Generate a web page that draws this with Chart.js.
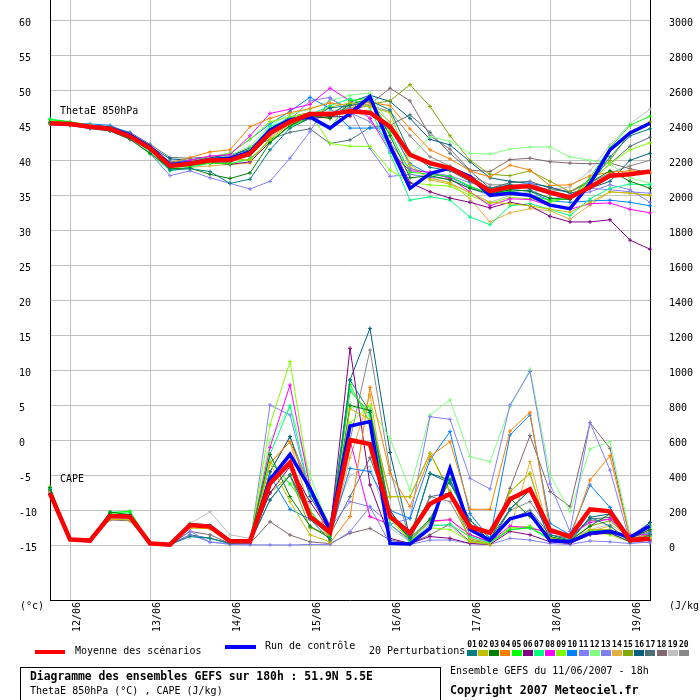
<!DOCTYPE html>
<html><head><meta charset="utf-8">
<script src="https://cdn.jsdelivr.net/npm/chart.js@4"></script>
<style>
html,body{margin:0;padding:0;background:#fff;overflow:hidden;}
#wrap{position:relative;width:700px;height:700px;overflow:hidden;font-family:"DejaVu Sans Mono",monospace;font-size:10px;color:#000;}
canvas{position:absolute;left:0;top:0;}
.t{position:absolute;white-space:nowrap;line-height:1;}
.b{font-weight:bold;}
.sw{position:absolute;}
</style></head><body>
<div id="wrap">
<canvas id="c" width="700" height="700"></canvas>
<div class="t" style="left:60px;top:106px">ThetaE 850hPa</div>
<div class="t" style="left:60px;top:474px">CAPE</div>
<div class="t" style="left:20px;top:601px">(°c)</div>
<div class="t" style="left:669px;top:601px">(J/kg)</div>
<div class="sw" style="left:35px;top:650px;width:30px;height:4px;background:#ff0000"></div>
<div class="t" style="left:75px;top:646px">Moyenne des scénarios</div>
<div class="sw" style="left:225px;top:645px;width:31px;height:4px;background:#0000ff"></div>
<div class="t" style="left:265px;top:641px">Run de contrôle</div>
<div class="t" style="left:369px;top:646px">20 Perturbations</div>
<div id="boxes"></div>
<div style="position:absolute;left:20px;top:667px;width:419px;height:40px;border:1px solid #000;"></div>
<div class="t b" style="left:30px;top:671px;font-size:11.4px">Diagramme des ensembles GEFS sur 180h : 51.9N 5.5E</div>
<div class="t" style="left:30px;top:686px">ThetaE 850hPa (°C) , CAPE (J/kg)</div>
<div class="t" style="left:450px;top:666px">Ensemble GEFS du 11/06/2007 - 18h</div>
<div class="t b" style="left:450px;top:685px;font-size:11.6px">Copyright 2007 Meteociel.fr</div>
</div>
<script>
// ---- categories (6-hourly steps, run of 11/06/2007 18h) ----
const times = ["11/06 18h","12/06 00h","12/06 06h","12/06 12h","12/06 18h","13/06 00h","13/06 06h","13/06 12h","13/06 18h",
"14/06 00h","14/06 06h","14/06 12h","14/06 18h","15/06 00h","15/06 06h","15/06 12h","15/06 18h",
"16/06 00h","16/06 06h","16/06 12h","16/06 18h","17/06 00h","17/06 06h","17/06 12h","17/06 18h",
"18/06 00h","18/06 06h","18/06 12h","18/06 18h","19/06 00h","19/06 06h"];

const leftTicks = [-15,-10,-5,0,5,10,15,20,25,30,35,40,45,50,55,60];
const rightTicks = [0,200,400,600,800,1000,1200,1400,1600,1800,2000,2200,2400,2600,2800,3000];

const memberNames = ["01","02","03","04","05","06","07","08","09","10","11","12","13","14","15","16","17","18","19","20"];

// ---- ThetaE 850hPa (°C) ----
const thetaMean = [45.3,45.2,44.8,44.5,43.4,41.7,39.2,39.5,40.0,40.0,41.0,43.9,45.5,46.6,46.6,47.0,46.8,44.8,40.8,39.6,38.9,37.4,35.6,36.2,36.3,35.4,34.7,36.2,37.8,38.0,38.4];
const thetaCtrl = [45.3,45.2,44.8,44.6,43.6,41.9,39.4,39.6,40.1,40.3,41.2,44.3,45.8,46.2,44.6,46.7,49.1,42.0,36.0,38.1,38.9,37.7,35.0,35.3,35.0,33.6,33.1,36.7,41.5,43.9,45.3];
const theta01 = [45.4,45.2,44.7,44.3,43.2,41.5,38.6,38.8,38.4,36.7,37.3,41.5,44.6,46.0,47.5,47.8,48.5,47.2,41.0,39.0,38.5,37.0,36.0,36.5,36.0,35.2,34.5,36.5,40.5,43.5,44.5];
const theta02 = [45.2,45.1,44.8,44.6,43.6,42.0,39.5,39.4,39.8,40.3,40.0,43.0,45.2,46.3,47.6,48.2,47.6,46.8,39.4,37.2,36.6,35.4,34.0,33.8,33.5,33.0,32.6,34.0,35.5,35.3,35.0];
const theta03 = [45.3,45.0,44.6,44.2,43.0,41.0,38.8,38.9,38.0,37.4,38.2,42.5,45.0,46.4,46.0,48.0,48.8,43.5,37.5,37.8,37.2,36.0,35.2,35.8,35.6,34.6,34.4,36.8,38.5,37.0,36.0];
const theta04 = [45.4,45.3,45.0,44.6,43.5,41.9,39.6,40.4,41.2,41.5,44.8,46.0,46.8,47.4,48.2,47.8,48.3,47.8,44.5,41.5,40.2,38.5,37.6,39.3,38.6,36.4,36.5,37.8,38.3,38.5,38.3];
const theta05 = [45.8,45.5,45.0,44.7,43.5,41.5,39.0,39.2,39.6,39.5,40.2,42.8,44.8,46.2,44.5,48.5,48.9,44.0,38.3,38.0,37.7,36.3,35.2,35.6,35.0,34.3,34.5,37.5,41.8,45.0,46.3];
const theta06 = [45.2,45.1,44.8,44.5,43.4,41.6,39.4,39.3,39.7,39.4,39.8,42.6,45.0,46.0,46.2,46.3,48.8,42.5,36.8,35.5,34.6,34.0,33.2,34.0,33.5,32.0,31.2,31.2,31.5,28.6,27.3];
const theta07 = [45.9,45.5,45.0,44.5,43.3,41.2,38.5,39.0,39.6,39.7,41.5,44.8,46.0,46.5,47.8,48.8,47.5,41.0,34.3,34.8,34.3,31.9,30.8,33.5,33.8,33.0,32.1,34.5,36.0,36.6,36.5];
const theta08 = [45.3,45.2,44.9,44.6,43.7,41.9,39.3,40.0,40.6,40.8,43.5,46.7,47.3,48.0,50.3,48.5,46.0,41.2,38.5,38.3,37.4,35.5,33.5,34.5,34.4,33.5,33.0,33.8,33.9,33.0,32.5];
const theta09 = [45.6,45.4,45.0,44.6,43.6,41.9,39.4,39.8,40.5,41.0,43.0,45.5,46.2,46.8,42.4,42.0,42.0,38.6,36.8,36.5,36.3,35.0,33.8,34.7,34.5,34.0,34.7,37.0,39.5,41.5,42.5];
const theta10 = [45.5,45.3,45.2,45.0,43.8,41.8,39.7,40.0,40.5,41.0,43.0,45.2,47.0,49.0,47.4,44.6,44.6,44.6,39.5,38.0,37.6,36.2,35.3,35.8,35.6,34.2,34.0,34.2,34.3,34.0,33.5];
const theta11 = [45.2,45.0,44.5,44.2,43.0,41.0,37.8,38.5,37.5,36.7,35.9,37.0,40.3,44.1,48.8,47.4,41.7,37.7,38.0,37.6,37.3,36.0,35.0,35.5,35.8,34.5,34.8,36.0,35.8,35.5,35.3];
const theta12 = [45.6,45.3,44.9,44.5,43.2,40.8,38.6,39.5,40.2,40.7,42.0,45.0,46.6,47.3,48.5,49.3,49.6,45.0,40.5,43.4,42.7,41.0,40.9,41.6,41.9,41.9,40.5,40.0,39.5,37.5,36.7];
const theta13 = [45.3,45.1,44.7,44.4,43.3,41.4,39.0,39.4,39.9,40.2,41.2,44.0,45.8,48.5,49.0,46.8,45.5,42.5,38.8,38.2,37.8,36.8,36.0,36.3,36.8,35.5,35.0,35.5,36.5,35.8,34.0];
const theta14 = [45.4,45.3,44.9,44.4,43.4,41.6,39.2,39.0,39.2,39.4,39.6,43.2,45.3,46.2,46.0,47.5,48.0,45.5,39.0,37.5,36.8,34.5,31.2,32.5,33.1,32.8,31.6,33.6,35.5,35.3,35.0];
const theta15 = [45.3,45.2,44.8,44.5,43.5,41.8,39.6,39.8,40.2,40.4,41.3,44.2,45.8,46.8,46.2,47.5,48.0,48.5,50.8,47.7,43.5,40.0,38.0,37.8,38.5,37.0,35.5,37.2,40.0,44.0,45.5];
const theta16 = [45.4,45.2,44.8,44.6,43.8,42.0,40.2,40.0,40.4,40.8,41.5,44.5,46.2,46.8,46.5,48.3,49.3,48.4,46.0,43.0,42.2,39.8,37.5,37.0,36.7,36.2,35.3,36.0,37.0,40.0,41.0];
const theta17 = [45.3,45.3,45.0,44.8,44.0,42.3,40.4,40.3,40.5,40.6,41.8,43.0,44.0,44.5,42.4,42.9,44.7,45.0,46.5,44.0,41.0,38.5,36.0,36.8,37.0,36.0,35.5,37.0,39.5,42.0,43.3];
const theta18 = [45.2,45.1,44.7,44.4,43.5,41.6,39.6,39.6,40.0,40.0,40.6,43.5,45.4,46.1,46.4,47.5,48.0,50.3,48.5,43.5,41.6,38.6,38.4,40.1,40.3,39.8,39.6,39.5,39.6,38.8,38.2];
const theta19 = [45.4,45.2,44.8,44.5,43.4,41.7,39.3,39.6,40.2,40.6,41.2,44.0,45.5,46.5,47.0,47.5,46.0,42.0,38.0,37.4,36.8,35.3,34.0,35.0,35.5,35.8,36.2,38.5,42.2,45.2,47.3];
const theta20 = [45.3,45.1,44.8,44.5,43.6,41.8,39.8,39.8,40.3,40.5,41.8,44.3,45.9,46.6,46.3,47.3,47.8,47.0,43.5,40.5,39.2,37.8,36.5,36.5,36.3,35.8,35.5,36.8,38.2,39.2,40.0];

// ---- CAPE (J/kg) ----
const capeMean = [297,34,27,168,164,11,4,116,107,23,23,354,472,164,75,602,578,165,70,237,293,106,72,263,320,88,50,206,194,30,38];
const capeCtrl = [300,34,27,170,165,11,4,116,110,23,23,375,520,326,88,682,707,12,8,97,440,90,29,152,181,27,21,69,80,46,110];
const cape01 = [320,35,25,160,160,10,4,50,40,10,15,259,402,150,30,945,760,200,40,411,373,145,40,206,316,60,30,160,110,20,60];
const cape02 = [300,30,25,150,145,8,2,100,95,20,20,469,250,60,20,780,720,278,278,526,300,20,5,307,411,40,20,90,90,30,40];
const cape03 = [330,38,28,190,175,12,5,110,100,25,25,520,278,110,40,800,770,160,40,150,373,120,30,269,164,50,25,110,180,40,90];
const cape04 = [310,34,26,165,160,10,3,115,105,20,20,469,592,330,15,164,903,411,221,507,592,206,206,653,760,90,40,373,512,40,60];
const cape05 = [320,36,28,185,195,14,6,125,115,30,30,480,350,200,50,920,700,170,30,140,380,100,20,90,100,40,20,80,90,30,110];
const cape06 = [290,33,26,165,160,10,4,110,100,20,20,300,450,250,80,1126,345,40,10,50,40,10,5,80,60,20,10,60,70,20,30];
const cape07 = [325,38,28,190,190,14,6,120,112,25,28,520,796,300,90,890,740,120,20,110,120,50,15,90,100,30,20,70,70,25,50];
const cape08 = [300,34,26,170,165,11,5,115,108,22,22,560,916,330,110,600,164,120,30,140,145,60,20,110,100,70,60,130,150,60,60];
const cape09 = [335,34,26,175,170,12,5,118,110,24,24,688,1050,340,120,700,800,150,30,100,90,20,10,100,110,30,20,80,60,20,40];
const cape10 = [305,34,26,168,162,10,4,112,105,20,20,400,206,150,60,440,421,200,154,488,650,180,40,631,745,126,60,345,217,30,70];
const cape11 = [300,35,27,170,165,10,3,80,17,10,8,802,745,300,100,250,221,120,154,735,720,383,322,802,993,350,78,701,430,20,15];
const cape12 = [320,36,28,180,185,12,5,120,110,25,25,600,796,400,80,790,792,611,316,745,831,507,478,790,1006,402,192,550,592,60,100];
const cape13 = [295,33,25,160,150,8,2,60,20,5,3,3,2,5,5,78,221,10,5,30,30,10,5,40,30,10,5,25,20,10,20];
const cape14 = [310,34,26,150,150,10,4,100,95,20,20,469,592,200,30,500,860,150,30,130,150,40,10,90,478,50,20,80,110,30,50];
const cape15 = [315,35,27,175,170,12,5,115,110,24,24,300,400,100,60,880,760,278,278,526,310,30,10,307,411,40,30,110,140,40,50];
const cape16 = [310,35,27,172,168,11,4,60,40,12,15,420,621,280,90,945,1240,530,40,411,354,145,20,206,316,30,20,160,180,40,130];
const cape17 = [305,34,26,170,165,10,4,110,100,20,20,259,402,180,60,278,500,200,30,278,300,60,20,150,200,60,40,150,160,50,130];
const cape18 = [290,32,25,145,140,8,2,80,60,10,10,135,59,20,10,69,97,30,10,60,122,20,10,326,627,307,221,701,554,40,80];
const cape19 = [280,30,25,150,150,15,10,124,192,60,40,350,500,150,120,400,450,100,20,120,110,20,10,100,110,60,40,90,120,50,70];
const cape20 = [305,34,26,168,162,10,4,110,100,20,20,420,621,330,90,600,1116,430,30,278,250,40,10,200,250,80,50,140,150,40,90];

const thetaPerts = [theta01,theta02,theta03,theta04,theta05,theta06,theta07,theta08,theta09,theta10,theta11,theta12,theta13,theta14,theta15,theta16,theta17,theta18,theta19,theta20];
const capePerts = [cape01,cape02,cape03,cape04,cape05,cape06,cape07,cape08,cape09,cape10,cape11,cape12,cape13,cape14,cape15,cape16,cape17,cape18,cape19,cape20];

// member colours (style)
const memberColors = ["#008080","#c0c000","#008000","#ff8000","#00ff00","#800080","#00ff80","#ff00ff","#80ff00","#0080ff",
"#8080ff","#80ff80","#8080f0","#e0b040","#80a800","#006080","#507078","#806870","#c0c0c0","#888888"];

// legend swatches
const boxes = document.getElementById('boxes');
memberNames.forEach((n,k)=>{
  const x = 467 + k*11.15;
  const num = document.createElement('div');
  num.className='t b';
  num.style.cssText = `left:${x-1}px;top:641px;width:12px;text-align:center;font-size:8px;`;
  num.textContent = n;
  boxes.appendChild(num);
  const sw = document.createElement('div');
  sw.className='sw';
  sw.style.cssText = `left:${x}px;top:650px;width:10px;height:6px;background:${memberColors[k]};`;
  boxes.appendChild(sw);
});

const datasets = [];
datasets.push({label:'Moyenne ThetaE',data:thetaMean,yAxisID:'y',borderColor:'#ff0000',borderWidth:4.5,pointRadius:0});
datasets.push({label:'Moyenne CAPE',data:capeMean,yAxisID:'y2',borderColor:'#ff0000',borderWidth:4.5,pointRadius:0});
datasets.push({label:'Contrôle ThetaE',data:thetaCtrl,yAxisID:'y',borderColor:'#0000ff',borderWidth:3.5,pointRadius:0});
datasets.push({label:'Contrôle CAPE',data:capeCtrl,yAxisID:'y2',borderColor:'#0000ff',borderWidth:3.5,pointRadius:0});
thetaPerts.forEach((d,k)=>{
  datasets.push({label:'ThetaE '+memberNames[k],data:d,yAxisID:'y',borderColor:memberColors[k],borderWidth:1,
    pointStyle:'cross',pointRadius:2,pointBorderColor:memberColors[k],pointBorderWidth:1});
});
capePerts.forEach((d,k)=>{
  datasets.push({label:'CAPE '+memberNames[k],data:d,yAxisID:'y2',borderColor:memberColors[k],borderWidth:1,
    pointStyle:'cross',pointRadius:2,pointBorderColor:memberColors[k],pointBorderWidth:1});
});

const tickFont = {family:'"DejaVu Sans Mono", monospace', size:10};
const noPad = (s)=>{ s.paddingTop = 0; s.paddingBottom = 0; };

new Chart(document.getElementById('c'), {
  type:'line',
  data:{labels:times, datasets},
  options:{
    responsive:false, animation:false, devicePixelRatio:1,
    layout:{autoPadding:false, padding:{left:19,right:0,top:0,bottom:0}},
    elements:{line:{tension:0, fill:false}},
    plugins:{legend:{display:false}, tooltip:{enabled:false}},
    scales:{
      x:{
        type:'category', offset:false,
        border:{display:true,color:'#000',width:1},
        grid:{drawTicks:false, lineWidth:1,
          color:(ctx)=> (times[ctx.index]||'').endsWith('00h') && ctx.index>0 ? '#c0c0c0' : 'rgba(0,0,0,0)'},
        ticks:{autoSkip:false, minRotation:90, maxRotation:90, padding:2, labelOffset:7, color:'#000', font:tickFont,
          callback:(v,i)=> times[i].endsWith('00h') ? times[i].slice(0,5) : ''},
        afterFit:(s)=>{ s.height = 100; s.paddingLeft = 0; s.paddingRight = 0; }
      },
      y:{
        position:'left', min:-22.81, max:62.9,
        border:{display:true,color:'#000',width:1},
        grid:{drawTicks:false, color:'#c0c0c0', lineWidth:1},
        afterBuildTicks:(s)=>{ s.ticks = leftTicks.map(v=>({value:v})); },
        ticks:{crossAlign:'far', padding:0, labelOffset:3, color:'#000', font:tickFont, callback:(v)=>String(v)},
        afterFit:(s)=>{ s.width = 31; noPad(s); }
      },
      y2:{
        position:'right', min:-312.4, max:3116,
        border:{display:true,color:'#000',width:1},
        grid:{drawTicks:false, drawOnChartArea:false},
        afterBuildTicks:(s)=>{ s.ticks = rightTicks.map(v=>({value:v})); },
        ticks:{padding:19, labelOffset:3, color:'#000', font:tickFont, callback:(v)=>String(v)},
        afterFit:(s)=>{ s.width = 50; noPad(s); }
      }
    }
  }
});
</script>
</body></html>
